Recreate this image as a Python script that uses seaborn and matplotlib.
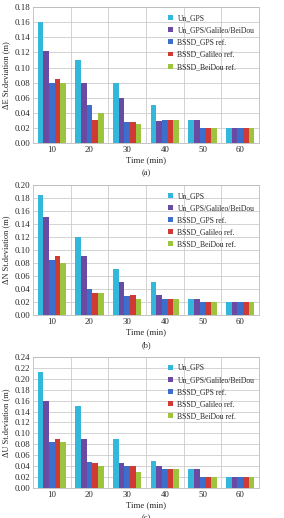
import numpy as np
import pandas as pd
import matplotlib
matplotlib.use("Agg")
import matplotlib.pyplot as plt
import seaborn as sns

sns.set_style("whitegrid")
plt.rcParams['font.family'] = ['Liberation Serif', 'DejaVu Serif']

times = ["10", "20", "30", "40", "50", "60"]
series = ["Un_GPS", "Un_GPS/Galileo/BeiDou", "BSSD_GPS ref.",
          "BSSD_Galileo ref.", "BSSD_BeiDou ref."]
colors = ["#33b8dc", "#6a4aa3", "#3b6fcb", "#cf3a35", "#9cc43c"]

# panel (a) east
e_un_gps   = [0.160, 0.110, 0.080, 0.050, 0.030, 0.020]
e_un_multi = [0.122, 0.080, 0.060, 0.029, 0.030, 0.020]
e_bssd_gps = [0.080, 0.050, 0.028, 0.030, 0.020, 0.020]
e_bssd_gal = [0.085, 0.031, 0.028, 0.030, 0.020, 0.020]
e_bssd_bds = [0.080, 0.040, 0.025, 0.030, 0.020, 0.020]

# panel (b) north
n_un_gps   = [0.185, 0.120, 0.070, 0.050, 0.025, 0.020]
n_un_multi = [0.150, 0.090, 0.050, 0.030, 0.025, 0.020]
n_bssd_gps = [0.085, 0.040, 0.029, 0.025, 0.020, 0.020]
n_bssd_gal = [0.090, 0.034, 0.030, 0.025, 0.020, 0.020]
n_bssd_bds = [0.080, 0.034, 0.025, 0.025, 0.020, 0.020]

# panel (c) up
u_un_gps   = [0.212, 0.150, 0.089, 0.049, 0.035, 0.020]
u_un_multi = [0.160, 0.089, 0.046, 0.040, 0.035, 0.020]
u_bssd_gps = [0.084, 0.047, 0.041, 0.035, 0.020, 0.020]
u_bssd_gal = [0.089, 0.046, 0.040, 0.035, 0.020, 0.020]
u_bssd_bds = [0.084, 0.040, 0.030, 0.035, 0.020, 0.020]

panels = [
    ("ΔE St.deviation (m)", "(a)", [e_un_gps, e_un_multi, e_bssd_gps, e_bssd_gal, e_bssd_bds], 0.18),
    ("ΔN St.deviation (m)", "(b)", [n_un_gps, n_un_multi, n_bssd_gps, n_bssd_gal, n_bssd_bds], 0.20),
    ("ΔU St.deviation (m)", "(c)", [u_un_gps, u_un_multi, u_bssd_gps, u_bssd_gal, u_bssd_bds], 0.24),
]

# axes boxes in figure fraction: left, bottom, width, height
boxes = [
    (0.116, 0.724, 0.796, 0.262),
    (0.116, 0.392, 0.796, 0.251),
    (0.116, 0.058, 0.796, 0.253),
]

fig = plt.figure(figsize=(2.84, 5.18), dpi=100)

for (ylab, tag, vals, ymax), box in zip(panels, boxes):
    rows = []
    for name, v in zip(series, vals):
        for t, y in zip(times, v):
            rows.append({"time": t, "series": name, "value": y})
    df = pd.DataFrame(rows)

    ax = fig.add_axes(box)
    sns.barplot(data=df, x="time", y="value", hue="series", palette=colors,
                width=0.75, saturation=1, ax=ax, linewidth=0)

    ax.set_ylim(0, ymax)
    ax.set_yticks(np.arange(0, ymax + 0.001, 0.02))
    ax.yaxis.set_major_formatter(matplotlib.ticker.FormatStrFormatter("%.2f"))
    ax.set_xlim(-0.5, 5.5)
    ax.set_xticks(np.arange(0.5, 5.5, 1), minor=True)
    ax.grid(False, axis="x", which="major")
    ax.grid(True, axis="x", which="minor", color="#cccccc", linewidth=0.6)
    ax.grid(True, axis="y", which="major", color="#cccccc", linewidth=0.6)
    ax.tick_params(axis="both", which="both", length=0, labelsize=6.3, pad=2)
    for s in ax.spines.values():
        s.set_color("#bbbbbb")
        s.set_linewidth(0.6)

    ax.set_ylabel(ylab, fontsize=6, labelpad=3)
    ax.set_xlabel("Time (min)", fontsize=6.3, labelpad=2)
    ax.annotate(tag, xy=(0.5, 0), xycoords="axes fraction", xytext=(0, -21.5),
                textcoords="offset points", ha="center", va="center", fontsize=6)

    ax.legend(loc="upper right", bbox_to_anchor=(1.01, 1.0), frameon=False,
              fontsize=5.5, handlelength=0.6, handleheight=0.6,
              handletextpad=0.6, labelspacing=0.55)

fig.savefig("out.png", dpi=100)
